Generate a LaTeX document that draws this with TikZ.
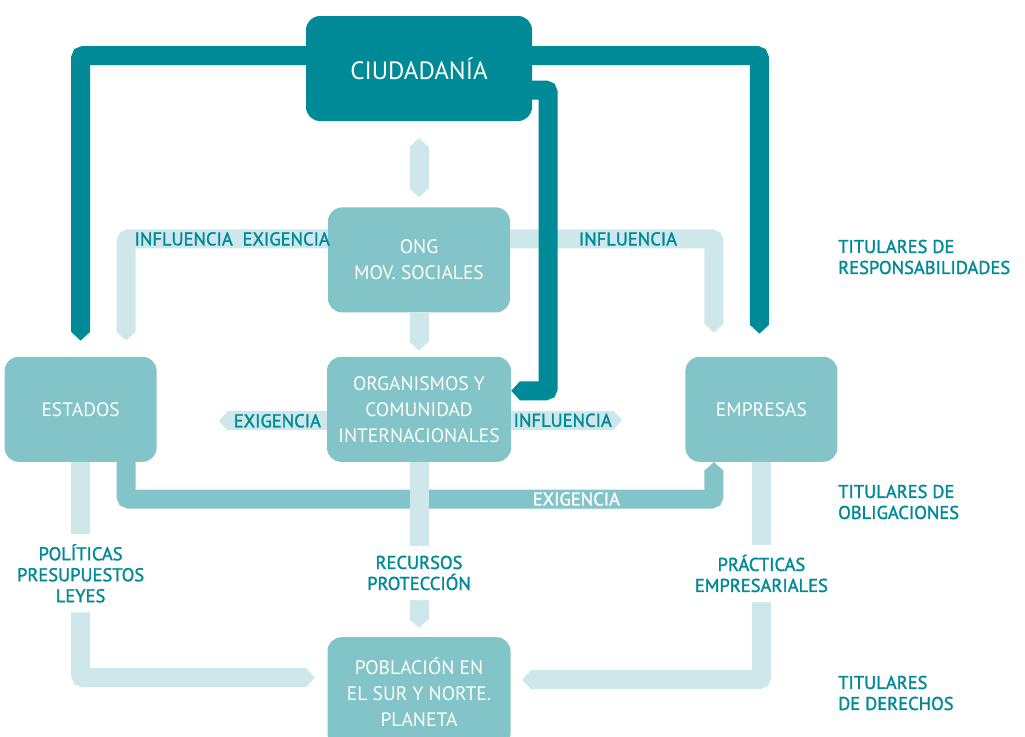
\documentclass[tikz,border=0pt]{standalone}
\usepackage{fontspec}
\setmainfont{PT Sans}
\newfontfamily\labelfont{PT Sans}[FakeBold=1.5]
\usetikzlibrary{
	arrows.meta,
	positioning
}
\definecolor{tealdark}{RGB}{0,137,150}
\definecolor{tealmid}{RGB}{130,196,200}
\definecolor{teallight}{RGB}{205,231,234}
\tikzset{
	>={Triangle[length=9pt, width=19pt]},
	boxnode/.style={fill=tealmid, text=white, rounded corners=14pt, align=center, minimum width=152pt, minimum height=105pt, inner sep=0pt, font=\fontsize{19.5}{26}\selectfont},
	bignode/.style={boxnode, fill=tealdark, minimum width=226pt, font=\fontsize{25}{30}\selectfont},
	darkedge/.style={draw=tealdark, line width=19pt, rounded corners=3pt},
	midedge/.style={darkedge, draw=tealmid},
	lightedge/.style={darkedge, draw=teallight},
	edgelabel/.style={text=tealdark, inner sep=0pt, font=\labelfont\fontsize{18.5}{21}\selectfont},
	gaplabel/.style={edgelabel, fill=white, align=center, inner xsep=2pt, inner ysep=10pt},
	sidelabel/.style={edgelabel, align=left, anchor=west}
}
\begin{document}
\begin{tikzpicture}[x=1pt, y=-1pt]
	\clip (0,0) rectangle (1025,736);

	\node[bignode] (ciud) at (419,68.5) {CIUDADANÍA};
	\node[boxnode, minimum width=182pt] (ong) [below=86pt of ciud] {ONG\\MOV. SOCIALES};
	\node[boxnode, minimum width=184pt] (org) [below=44pt of ong] {ORGANISMOS Y\\COMUNIDAD\\INTERNACIONALES};
	\node[boxnode] (estados) [left=170pt of org] {ESTADOS};
	\node[boxnode] (empresas) [right=174pt of org] {EMPRESAS};
	\node[boxnode, minimum width=183pt, minimum height=110pt] (pob) [below=175pt of org] {POBLACIÓN EN\\EL SUR Y NORTE.\\PLANETA};
	\coordinate[left=108pt of org, yshift=-11.5pt] (exig);
	\coordinate[right=111pt of org, yshift=-11pt] (influ);

	\draw[midedge, ->] ([xshift=45.5pt]estados.south) |- node[pos=0.883, edgelabel, text=white] {EXIGENCIA} ([xshift=-47.5pt, yshift=-37pt]empresas.south) -- ([xshift=-47.5pt]empresas.south);

	\draw[lightedge, <->, shorten <=17pt, shorten >=10pt] (ciud.south) -- (ong.north);
	\draw[lightedge, ->, shorten >=6pt] (ong.south) -- (org.north);
	\draw[lightedge, ->] ([yshift=21pt]ong.west) -| node[pos=0.237, edgelabel] {INFLUENCIA\ \ EXIGENCIA} ([xshift=45.5pt, yshift=16pt]estados.north);
	\draw[lightedge, ->] ([yshift=21pt]ong.east) -| node[pos=0.289, edgelabel] {INFLUENCIA} ([xshift=-47.5pt, yshift=24pt]empresas.north);
	\draw[lightedge, ->] (org.west |- exig) -- node[pos=0.458, edgelabel] {EXIGENCIA} (exig);
	\draw[lightedge, ->] (org.east |- influ) -- node[pos=0.464, edgelabel] {INFLUENCIA} (influ);
	\draw[lightedge, ->, shorten >=9pt] (org.south) -- node[pos=0.634, gaplabel] {RECURSOS\\PROTECCIÓN} (pob.north);
	\draw[lightedge, ->, shorten >=12.5pt] (estados.south) |- node[pos=0.258, gaplabel] {POLÍTICAS\\PRESUPUESTOS\\LEYES} ([yshift=14.5pt]pob.west);
	\draw[lightedge, ->, shorten >=11.5pt] (empresas.south) |- node[pos=0.256, gaplabel] {PRÁCTICAS\\EMPRESARIALES} ([yshift=12.5pt]pob.east);

	\draw[darkedge, ->] ([yshift=13pt]ciud.west) -| ([yshift=16pt]estados.north);
	\draw[darkedge, ->] ([yshift=13pt]ciud.east) -| ([xshift=-2pt, yshift=23pt]empresas.north);
	\draw[darkedge, ->] ([yshift=-21.5pt]ciud.east) -| ([xshift=37pt, yshift=18.5pt]org.east) -- ([yshift=18.5pt]org.east);

	\node[sidelabel] (resp) at (838,257) {TITULARES DE\\RESPONSABILIDADES};
	\node[sidelabel] (oblig) at (838,502) {TITULARES DE\\OBLIGACIONES};
	\node[sidelabel] (derech) at (838,693) {TITULARES\\DE DERECHOS};
\end{tikzpicture}
\end{document}
